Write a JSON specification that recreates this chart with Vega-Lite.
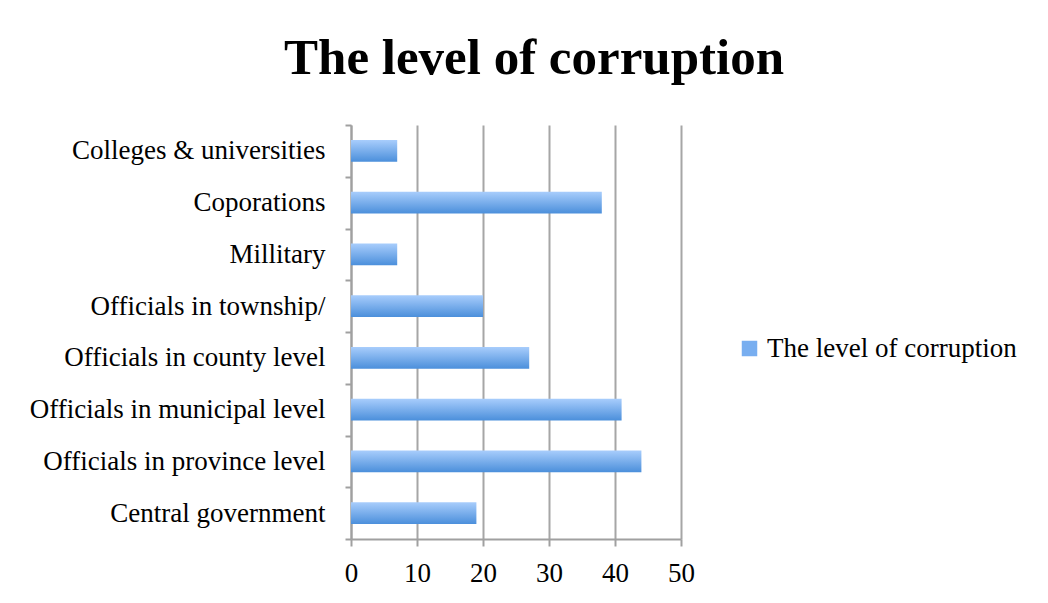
{
  "$schema": "https://vega.github.io/schema/vega-lite/v6.json",
  "autosize": "none",
  "width": 330,
  "height": 414,
  "padding": {"left": 351, "top": 125, "right": 367, "bottom": 64},
  "background": "white",
  "title": {
    "text": "The level of corruption",
    "font": "Liberation Serif",
    "fontSize": 51,
    "fontWeight": "bold",
    "color": "black",
    "anchor": "middle",
    "dx": 18,
    "offset": 26
  },
  "data": {
    "values": [
      {"category": "Colleges & universities", "value": 7, "series": "The level of corruption"},
      {"category": "Coporations", "value": 38, "series": "The level of corruption"},
      {"category": "Millitary", "value": 7, "series": "The level of corruption"},
      {"category": "Officials in township/", "value": 20, "series": "The level of corruption"},
      {"category": "Officials in county level", "value": 27, "series": "The level of corruption"},
      {"category": "Officials in municipal level", "value": 41, "series": "The level of corruption"},
      {"category": "Officials in province level ", "value": 44, "series": "The level of corruption"},
      {"category": "Central government", "value": 19, "series": "The level of corruption"}
    ]
  },
  "encoding": {
    "y": {
      "field": "category",
      "type": "nominal",
      "sort": null,
      "scale": {"paddingInner": 0, "paddingOuter": 0},
      "axis": {
        "title": null,
        "tickBand": "extent",
        "ticks": true,
        "tickSize": 6,
        "tickColor": "#a0a0a0",
        "tickWidth": 2,
        "domainColor": "#a0a0a0",
        "domainWidth": 2,
        "labelFont": "Liberation Serif",
        "labelFontSize": 27,
        "labelColor": "black",
        "labelPadding": 20,
        "labelLimit": 400
      }
    },
    "x": {
      "field": "value",
      "type": "quantitative",
      "scale": {"domain": [0, 50], "nice": false},
      "axis": {
        "title": null,
        "values": [0, 10, 20, 30, 40, 50],
        "grid": true,
        "gridColor": "#a6a6a6",
        "gridWidth": 2,
        "tickSize": 7,
        "tickColor": "#a0a0a0",
        "tickWidth": 2,
        "domainColor": "#a0a0a0",
        "domainWidth": 2,
        "labelFont": "Liberation Serif",
        "labelFontSize": 27,
        "labelColor": "black",
        "labelPadding": 14,
        "labelFlush": false
      }
    }
  },
  "layer": [
    {
      "mark": {
        "type": "bar",
        "height": {"band": 0.42},
        "fill": {"gradient": "linear", "x1": 0, "y1": 0, "x2": 0, "y2": 1,
                 "stops": [{"offset": 0, "color": "#a8cdfc"}, {"offset": 1, "color": "#4b8fdb"}]}
      }
    },
    {
      "mark": {"type": "bar", "height": {"band": 0.42}, "fillOpacity": 0},
      "encoding": {
        "fill": {
          "field": "series",
          "type": "nominal",
          "scale": {"range": ["#78aef0"]},
          "legend": {
            "title": null,
            "orient": "none",
            "legendX": 385,
            "legendY": 210,
            "padding": 0,
            "symbolType": "square",
            "symbolSize": 240,
            "symbolOpacity": 1,
            "symbolStrokeWidth": 0,
            "labelFont": "Liberation Serif",
            "labelFontSize": 27,
            "labelColor": "black",
            "labelOffset": 4,
            "labelLimit": 400
          }
        }
      }
    }
  ],
  "config": {"view": {"stroke": null}}
}
